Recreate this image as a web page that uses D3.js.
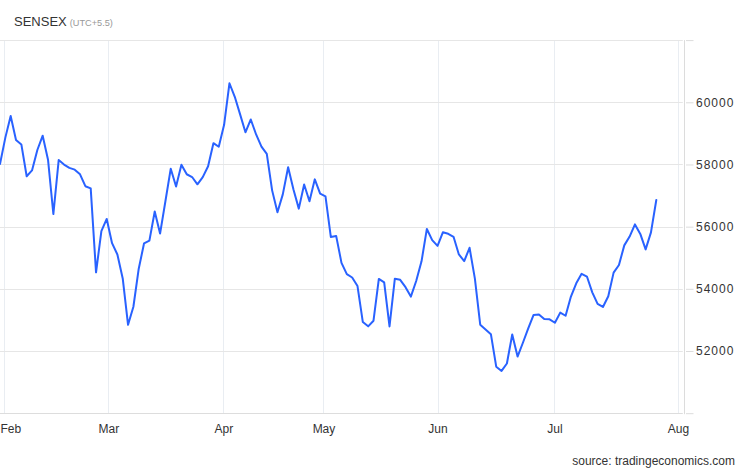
<!DOCTYPE html>
<html>
<head>
<meta charset="utf-8">
<script src="https://cdn.jsdelivr.net/npm/d3@7/dist/d3.min.js"></script>
<style>
  html, body { margin: 0; padding: 0; background: #fff; }
  svg { display: block; font-family: "Liberation Sans", Arial, sans-serif; }
</style>
</head>
<body>
<svg id="chart" width="746" height="468"></svg>
<script>
// ---- data (SENSEX daily closes) ----
const dates = [
  "2022-01-31","2022-02-01","2022-02-02","2022-02-03","2022-02-04","2022-02-07","2022-02-08","2022-02-09","2022-02-10","2022-02-11",
  "2022-02-14","2022-02-15","2022-02-16","2022-02-17","2022-02-18","2022-02-21","2022-02-22","2022-02-23","2022-02-24","2022-02-25",
  "2022-02-28","2022-03-02","2022-03-03","2022-03-04","2022-03-07","2022-03-08","2022-03-09","2022-03-10","2022-03-11","2022-03-14",
  "2022-03-15","2022-03-16","2022-03-17","2022-03-21","2022-03-22","2022-03-23","2022-03-24","2022-03-25","2022-03-28","2022-03-29",
  "2022-03-30","2022-03-31","2022-04-01","2022-04-04","2022-04-05","2022-04-06","2022-04-07","2022-04-08","2022-04-11","2022-04-12",
  "2022-04-13","2022-04-18","2022-04-19","2022-04-20","2022-04-21","2022-04-22","2022-04-25","2022-04-26","2022-04-27","2022-04-28",
  "2022-04-29","2022-05-02","2022-05-04","2022-05-05","2022-05-06","2022-05-09","2022-05-10","2022-05-11","2022-05-12","2022-05-13",
  "2022-05-16","2022-05-17","2022-05-18","2022-05-19","2022-05-20","2022-05-23","2022-05-24","2022-05-25","2022-05-26","2022-05-27",
  "2022-05-30","2022-05-31","2022-06-01","2022-06-02","2022-06-03","2022-06-06","2022-06-07","2022-06-08","2022-06-09","2022-06-10",
  "2022-06-13","2022-06-14","2022-06-15","2022-06-16","2022-06-17","2022-06-20","2022-06-21","2022-06-22","2022-06-23","2022-06-24",
  "2022-06-27","2022-06-28","2022-06-29","2022-06-30","2022-07-01","2022-07-04","2022-07-05","2022-07-06","2022-07-07","2022-07-08",
  "2022-07-11","2022-07-12","2022-07-13","2022-07-14","2022-07-15","2022-07-18","2022-07-19","2022-07-20","2022-07-21","2022-07-22",
  "2022-07-25","2022-07-26","2022-07-27","2022-07-28"
];
const values = [
  58014,58863,59558,58788,58645,57621,57809,58466,58926,58153,
  56406,58142,57997,57892,57833,57684,57301,57232,54530,55859,
  56247,55469,55103,54334,52843,53424,54647,55464,55550,56486,
  55777,56816,57864,57292,57990,57685,57596,57362,57593,57944,
  58684,58569,59277,60612,60176,59610,59035,59447,58965,58576,
  58339,57167,56463,57038,57912,57197,56580,57357,56819,57521,
  57061,56976,55669,55702,54836,54471,54365,54089,52931,52794,
  52974,54318,54209,52792,54326,54289,54053,53750,54253,54885,
  55926,55566,55382,55818,55770,55675,55107,54893,55321,54330,
  52847,52694,52541,51496,51360,51598,52532,51823,52266,52728,
  53161,53177,53027,53019,52908,53235,53134,53751,54178,54482,
  54395,53887,53515,53416,53761,54522,54768,55398,55682,56072,
  55767,55268,55816,56858
];
// month tick labels and their position on the trading-day index axis
const monthLabels = ["Feb","Mar","Apr","May","Jun","Jul","Aug"];
const monthTickIdx = [0.81, 20.3, 41.87, 60.62, 82.0, 103.9, 127.07];
// y ticks
const yTicks = [50000, 52000, 54000, 56000, 58000, 60000, 62000];
const yLabelled = [52000, 54000, 56000, 58000, 60000];

// ---- layout ----
const plotLeft = 0, plotRight = 684.3, plotTop = 40.1, plotBottom = 413.2;

const svg = d3.select("#chart");

const x = d3.scaleLinear().domain([0, values.length - 1]).range([plotLeft, 656.3]);
const y = d3.scaleLinear().domain([50000, 62000]).range([plotBottom, plotTop]);

// title
const title = svg.append("text").attr("x", 14).attr("y", 26)
  .style("font-size", "13px").style("fill", "#333");
title.append("tspan").text("SENSEX");
title.append("tspan").attr("dx", 3).style("font-size", "9.2px").style("fill", "#999").text("(UTC+5.5)");

// vertical grid lines (months)
svg.append("g").selectAll("line").data(monthTickIdx).join("line")
  .attr("x1", d => Math.round(x(d)) + 0.5).attr("x2", d => Math.round(x(d)) + 0.5)
  .attr("y1", plotTop).attr("y2", plotBottom)
  .attr("stroke", "#e9edf2").attr("stroke-width", 1);

// horizontal grid lines
svg.append("g").selectAll("line").data(yTicks).join("line")
  .attr("x1", plotLeft).attr("x2", plotRight - 1.5)
  .attr("y1", d => Math.round(y(d)) + 0.5).attr("y2", d => Math.round(y(d)) + 0.5)
  .attr("stroke", d => d === 50000 ? "#dddddd" : "#e6e6e6").attr("stroke-width", 1);

// right y axis
const yAxis = d3.axisRight(y).tickValues(yTicks).tickSize(8).tickPadding(4)
  .tickFormat(d => yLabelled.includes(d) ? String(d) : "");
const gy = svg.append("g").attr("transform", `translate(${Math.round(plotRight) + 0.5},0)`).call(yAxis);
gy.select(".domain").attr("stroke", "#dcdcdc").attr("d", `M0,${plotTop}V${plotBottom + 1}`);
gy.selectAll(".tick line").attr("stroke", "#dcdcdc").attr("x1", 1.5).attr("x2", 9);
gy.selectAll(".tick text").attr("x", 11.5)
  .style("font-size", "12px").style("letter-spacing", "1px").style("fill", "#333")
  .style("font-family", "'Liberation Sans', Arial, sans-serif");

// bottom x axis (labels only)
const xAxis = d3.axisBottom(x).tickValues(monthTickIdx).tickSize(0).tickPadding(0)
  .tickFormat((d, i) => monthLabels[i]);
const gx = svg.append("g").attr("transform", `translate(0,${plotBottom})`).call(xAxis);
gx.select(".domain").remove();
gx.selectAll(".tick text").attr("y", 20).attr("dy", 0)
  .style("font-size", "12px").style("fill", "#333")
  .style("font-family", "'Liberation Sans', Arial, sans-serif");
// keep the first label inside the chart
gx.selectAll(".tick").filter((d, i) => i === 0).select("text")
  .attr("text-anchor", "start").attr("x", -x(monthTickIdx[0]));

// line
const line = d3.line().x((d, i) => x(i)).y(d => y(d));
svg.append("path").datum(values)
  .attr("fill", "none").attr("stroke", "#2962ff").attr("stroke-width", 2)
  .attr("stroke-linejoin", "round").attr("stroke-linecap", "round")
  .attr("d", line);

// source
svg.append("text").attr("x", 735).attr("y", 465).attr("text-anchor", "end")
  .style("font-size", "12px").style("fill", "#333").text("source: tradingeconomics.com");
</script>
</body>
</html>
